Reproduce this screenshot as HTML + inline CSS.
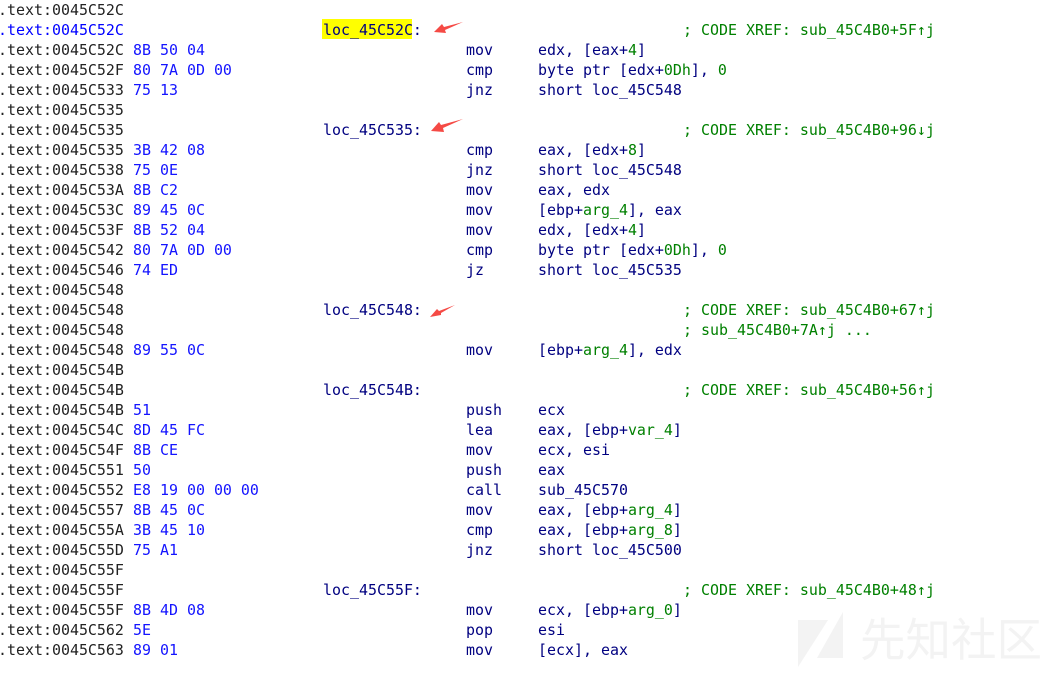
<!DOCTYPE html>
<html><head><meta charset="utf-8">
<style>
html,body{margin:0;padding:0;background:#fff;width:1060px;height:673px;overflow:hidden}
#w{position:relative;width:1060px;height:673px;overflow:hidden;background:#fff}
.r{position:absolute;left:0;height:20px;width:1060px;font:14.95px/20px "DejaVu Sans Mono","Liberation Mono",monospace;white-space:pre;margin-top:1px}
.r span{position:absolute;top:0}
.a{left:-2px;color:#222}
.b{left:133px;color:#1414ff}
.l{left:323px;color:#000080}
.m{left:466px;color:#000080}
.o{left:538px;color:#000080}
.c{left:683px;color:#008000}
.r i{font-style:normal;color:#008000}
svg{position:absolute;left:0;top:0}
.wm{position:absolute;left:860px;top:607px;font:45.5px/60px "Noto Sans CJK SC",sans-serif;color:#f3f3f3;white-space:nowrap}
</style></head><body><div id="w">
<svg width="1060" height="673">
<polygon points="798,620 828,620 798,667" fill="#f3f3f3"/>
<polygon points="843,612 843,658 817,658" fill="#f3f3f3"/>
<rect x="322" y="19" width="90" height="20" fill="#ffff00"/>
</svg>
<div class="wm">先知社区</div>
<div class="r" style="top:-1px"><span class="a">.text:0045C52C</span></div>
<div class="r" style="top:19px"><span class="a" style="color:#0000ff">.text:0045C52C</span><span class="l">loc_45C52C:</span><span class="c">; CODE XREF: sub_45C4B0+5F↑j</span></div>
<div class="r" style="top:39px"><span class="a">.text:0045C52C</span><span class="b">8B 50 04</span><span class="m">mov</span><span class="o">edx, [eax+<i>4</i>]</span></div>
<div class="r" style="top:59px"><span class="a">.text:0045C52F</span><span class="b">80 7A 0D 00</span><span class="m">cmp</span><span class="o">byte ptr [edx+<i>0Dh</i>], <i>0</i></span></div>
<div class="r" style="top:79px"><span class="a">.text:0045C533</span><span class="b">75 13</span><span class="m">jnz</span><span class="o">short loc_45C548</span></div>
<div class="r" style="top:99px"><span class="a">.text:0045C535</span></div>
<div class="r" style="top:119px"><span class="a">.text:0045C535</span><span class="l">loc_45C535:</span><span class="c">; CODE XREF: sub_45C4B0+96↓j</span></div>
<div class="r" style="top:139px"><span class="a">.text:0045C535</span><span class="b">3B 42 08</span><span class="m">cmp</span><span class="o">eax, [edx+<i>8</i>]</span></div>
<div class="r" style="top:159px"><span class="a">.text:0045C538</span><span class="b">75 0E</span><span class="m">jnz</span><span class="o">short loc_45C548</span></div>
<div class="r" style="top:179px"><span class="a">.text:0045C53A</span><span class="b">8B C2</span><span class="m">mov</span><span class="o">eax, edx</span></div>
<div class="r" style="top:199px"><span class="a">.text:0045C53C</span><span class="b">89 45 0C</span><span class="m">mov</span><span class="o">[ebp+<i>arg_4</i>], eax</span></div>
<div class="r" style="top:219px"><span class="a">.text:0045C53F</span><span class="b">8B 52 04</span><span class="m">mov</span><span class="o">edx, [edx+<i>4</i>]</span></div>
<div class="r" style="top:239px"><span class="a">.text:0045C542</span><span class="b">80 7A 0D 00</span><span class="m">cmp</span><span class="o">byte ptr [edx+<i>0Dh</i>], <i>0</i></span></div>
<div class="r" style="top:259px"><span class="a">.text:0045C546</span><span class="b">74 ED</span><span class="m">jz</span><span class="o">short loc_45C535</span></div>
<div class="r" style="top:279px"><span class="a">.text:0045C548</span></div>
<div class="r" style="top:299px"><span class="a">.text:0045C548</span><span class="l">loc_45C548:</span><span class="c">; CODE XREF: sub_45C4B0+67↑j</span></div>
<div class="r" style="top:319px"><span class="a">.text:0045C548</span><span class="c">; sub_45C4B0+7A↑j ...</span></div>
<div class="r" style="top:339px"><span class="a">.text:0045C548</span><span class="b">89 55 0C</span><span class="m">mov</span><span class="o">[ebp+<i>arg_4</i>], edx</span></div>
<div class="r" style="top:359px"><span class="a">.text:0045C54B</span></div>
<div class="r" style="top:379px"><span class="a">.text:0045C54B</span><span class="l">loc_45C54B:</span><span class="c">; CODE XREF: sub_45C4B0+56↑j</span></div>
<div class="r" style="top:399px"><span class="a">.text:0045C54B</span><span class="b">51</span><span class="m">push</span><span class="o">ecx</span></div>
<div class="r" style="top:419px"><span class="a">.text:0045C54C</span><span class="b">8D 45 FC</span><span class="m">lea</span><span class="o">eax, [ebp+<i>var_4</i>]</span></div>
<div class="r" style="top:439px"><span class="a">.text:0045C54F</span><span class="b">8B CE</span><span class="m">mov</span><span class="o">ecx, esi</span></div>
<div class="r" style="top:459px"><span class="a">.text:0045C551</span><span class="b">50</span><span class="m">push</span><span class="o">eax</span></div>
<div class="r" style="top:479px"><span class="a">.text:0045C552</span><span class="b">E8 19 00 00 00</span><span class="m">call</span><span class="o">sub_45C570</span></div>
<div class="r" style="top:499px"><span class="a">.text:0045C557</span><span class="b">8B 45 0C</span><span class="m">mov</span><span class="o">eax, [ebp+<i>arg_4</i>]</span></div>
<div class="r" style="top:519px"><span class="a">.text:0045C55A</span><span class="b">3B 45 10</span><span class="m">cmp</span><span class="o">eax, [ebp+<i>arg_8</i>]</span></div>
<div class="r" style="top:539px"><span class="a">.text:0045C55D</span><span class="b">75 A1</span><span class="m">jnz</span><span class="o">short loc_45C500</span></div>
<div class="r" style="top:559px"><span class="a">.text:0045C55F</span></div>
<div class="r" style="top:579px"><span class="a">.text:0045C55F</span><span class="l">loc_45C55F:</span><span class="c">; CODE XREF: sub_45C4B0+48↑j</span></div>
<div class="r" style="top:599px"><span class="a">.text:0045C55F</span><span class="b">8B 4D 08</span><span class="m">mov</span><span class="o">ecx, [ebp+<i>arg_0</i>]</span></div>
<div class="r" style="top:619px"><span class="a">.text:0045C562</span><span class="b">5E</span><span class="m">pop</span><span class="o">esi</span></div>
<div class="r" style="top:639px"><span class="a">.text:0045C563</span><span class="b">89 01</span><span class="m">mov</span><span class="o">[ecx], eax</span></div>
<svg width="1060" height="673">
<polygon points="434,32 442,24 444,27 463,22 445,30 446,33" fill="#f54a45"/>
<polygon points="431,131 439,122 441,125 463,119 443,128 444,132" fill="#f54a45"/>
<polygon points="430,317 437,309 439,311 455,305 441,313 441,315" fill="#f54a45"/>
</svg>
</div></body></html>
